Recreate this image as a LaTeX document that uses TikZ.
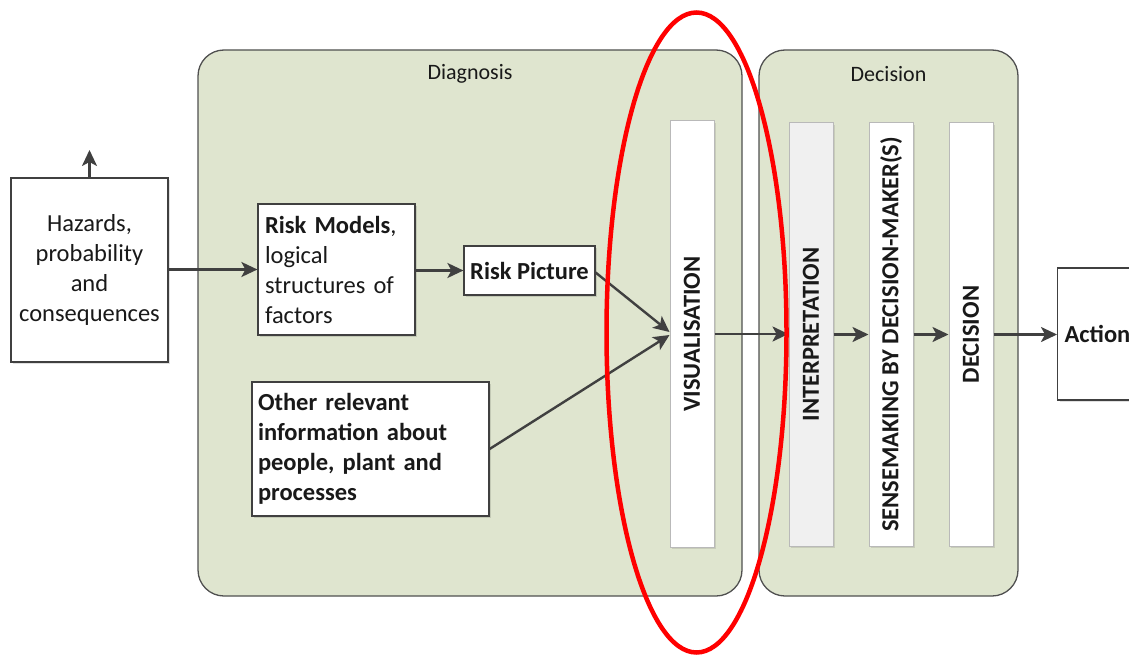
\documentclass[tikz,border=0pt]{standalone}
\usepackage{fontspec}
\setmainfont{Carlito}
\usetikzlibrary{arrows.meta,shadows,calc}
\definecolor{panelfill}{RGB}{223,229,207}
\definecolor{panelborder}{RGB}{80,80,80}
\definecolor{arrowgray}{RGB}{64,64,64}
\definecolor{barborder}{RGB}{185,185,185}
\definecolor{intfill}{RGB}{240,240,240}
\definecolor{txt}{RGB}{25,25,25}
\begin{document}
\begin{tikzpicture}[x=1pt,y=-1pt,
  panel/.style={draw=panelborder, line width=1.3pt, fill=panelfill, rounded corners=26pt},
  paneltitle/.style={font=\fontsize{22}{26}\selectfont, text=txt},
  box/.style={draw=arrowgray, line width=1.2pt, fill=white, text=txt,
    drop shadow={shadow xshift=2pt, shadow yshift=-2pt, fill=black, opacity=0.12},
    font=\fontsize{24.5}{30}\selectfont},
  bar/.style={draw=barborder, line width=1pt, fill=white,
    drop shadow={shadow xshift=2pt, shadow yshift=-2pt, fill=black, opacity=0.10},
    minimum width=44pt},
  vlabel/.style={rotate=90, font=\fontsize{24.5}{30}\selectfont\bfseries, text=txt},
  arr/.style={draw=arrowgray, line width=2.4pt, -{Stealth[length=16pt,width=15pt,inset=4pt]}}
]
\useasboundingbox (0,0) rectangle (1129,655);
% panels
\node[panel, minimum width=544pt, minimum height=546pt] (diag) at (470,323) {};
\node[paneltitle] (diagt) at (470,74) {Diagnosis};
\node[panel, minimum width=259pt, minimum height=546pt] (decp) at (888.5,323) {};
\node[paneltitle] (decpt) at (888.5,74) {Decision};
% boxes
\node[box, minimum width=157pt, minimum height=184pt, align=center] (haz) at (89.5,270)
  {Hazards,\\probability\\and\\consequences};
\node[box, minimum height=131pt, text width=143pt, inner sep=7pt, align=left] (rm) at (336.5,269.5)
  {\textbf{Risk Models},\\logical\\structures of\\factors};
\node[box, minimum width=131pt, minimum height=49pt, font=\fontsize{24.5}{30}\selectfont\bfseries] (rp) at (529.5,270.5)
  {Risk Picture};
\node[box, minimum height=134pt, text width=225pt, inner sep=6pt, align=left, font=\fontsize{24.5}{30}\selectfont\bfseries] (oth) at (370.5,449)
  {Other relevant\\information about\\people, plant and\\processes};
\node[box, anchor=west, minimum height=132pt, text width=126pt, inner sep=7pt, align=left, font=\fontsize{24.5}{30}\selectfont\bfseries] (act) at (1057,334)
  {Action};
% bars
\node[bar, minimum height=426pt] (vis) at (692,334) {};
\node[vlabel] (vist) at (vis.center) {VISUALISATION};
\node[bar, minimum height=423pt, fill=intfill] (int) at (811,334.5) {};
\node[vlabel] (intt) at (int.center) {INTERPRETATION};
\node[bar, minimum height=423pt] (sen) at (891,334.5) {};
\node[vlabel] (sent) at (sen.center) {SENSEMAKING BY DECISION-MAKER(S)};
\node[bar, minimum height=423pt] (dec) at (971,334.5) {};
\node[vlabel] (dect) at (dec.center) {DECISION};
% connectors
\coordinate (hazup) at (89.5,150);
\draw[arr] (haz.north) -- (hazup);
\draw[arr] (haz.east |- rm.west) -- (rm.west);
\draw[arr] (rm.east |- rp.west) -- (rp.west);
\draw[arr] ($(rp.east)+(0,2)$) -- ($(vis.west)+(0,-2)$);
\draw[arr] (oth.east) -- ($(vis.west)+(0,1)$);
\draw[arr] (vis.east) -- (vis.east -| int.west);
\draw[arr] (int.east) -- (int.east -| sen.west);
\draw[arr] (sen.east) -- (sen.east -| dec.west);
\draw[arr] (dec.east) -- (dec.east -| act.west);
% highlight
\draw[red, line width=4.5pt] (696.5,332.5) ellipse [x radius=90, y radius=320];
\end{tikzpicture}
\end{document}
